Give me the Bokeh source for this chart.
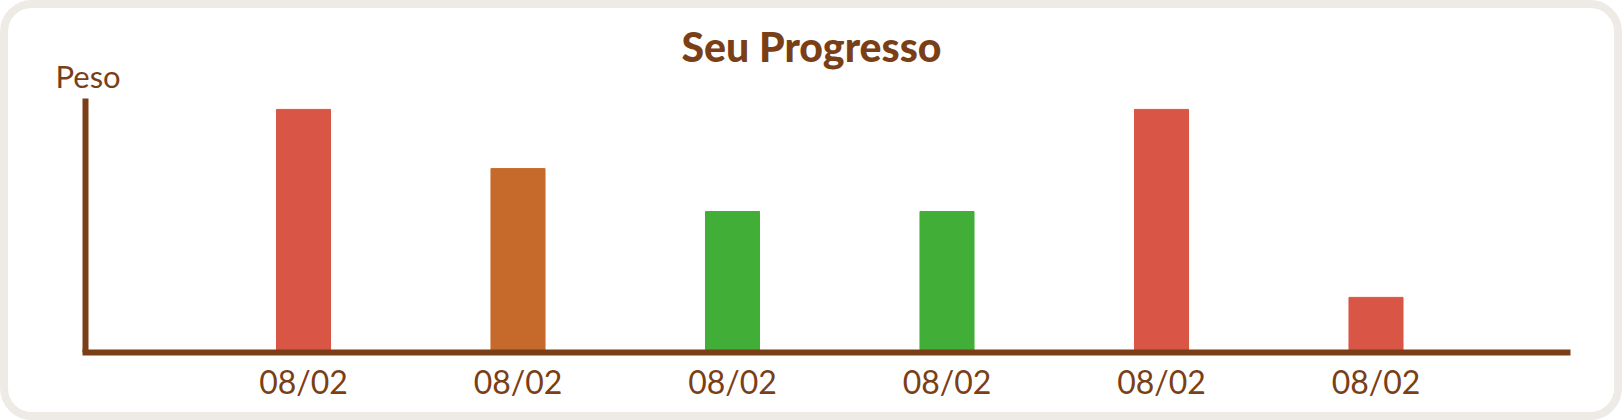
from bokeh.plotting import figure
from bokeh.models import ColumnDataSource, FixedTicker, Label, Range1d
from bokeh.embed import file_html
from bokeh.resources import INLINE

# ---- data ----
dates = ["08/02", "08/02", "08/02", "08/02", "08/02", "08/02"]
weights = [95.7, 72.4, 55.5, 55.5, 95.7, 21.7]
bar_colors = ["#D95545", "#C66A2B", "#41AE38", "#41AE38", "#D95545", "#D95545"]
title_text = "Seu Progresso"
y_label = "Peso"

BROWN = "#7A3F17"
FONT = "Lato"

xs = list(range(1, len(dates) + 1))
src = ColumnDataSource(dict(x=xs, top=weights, color=bar_colors))

X0 = -0.01632     # where the value axis stands
X1 = 6.8928       # end of the category axis line

p = figure(
    width=1606, height=404,
    output_backend="svg", toolbar_location=None,
    x_range=Range1d(-0.28205, 7.18648), y_range=Range1d(0, 135.43),
    min_border_left=20, min_border_right=0, min_border_top=0, min_border_bottom=76,
)
p.styles = {
    "border": "8px solid #EEEAE6", "border-radius": "32px",
    "overflow": "hidden", "box-sizing": "content-box",
}
p.background_fill_color = "white"
p.border_fill_color = "white"
p.outline_line_color = None
p.grid.visible = False

p.vbar(x="x", top="top", bottom=0, width=0.252, color="color", source=src)

# x axis
xa = p.xaxis[0]
xa.ticker = FixedTicker(ticks=xs)
xa.major_label_overrides = {x: d for x, d in zip(xs, dates)}
xa.bounds = (X0, X1)
xa.axis_line_color = BROWN
xa.axis_line_width = 6
xa.axis_line_cap = "square"
xa.major_tick_line_color = None
xa.minor_tick_line_color = None
xa.major_tick_out = 0
xa.major_tick_in = 0
xa.major_label_text_font = FONT
xa.major_label_text_font_size = "32px"
xa.major_label_text_color = BROWN
xa.major_label_standoff = 9

# y axis
ya = p.yaxis[0]
ya.ticker = FixedTicker(ticks=[])
ya.fixed_location = X0
ya.bounds = (0, 100)
ya.axis_line_color = BROWN
ya.axis_line_width = 6
ya.major_tick_line_color = None
ya.minor_tick_line_color = None
ya.major_tick_out = 0
ya.major_tick_in = 0
ya.minor_tick_out = 0
ya.major_label_standoff = 0
ya.major_label_text_font_size = "0px"

p.add_layout(Label(x=783, y=306, x_units="screen", y_units="screen", text=title_text,
                   text_align="center", text_baseline="alphabetic",
                   text_font="Lato Black", text_font_style="bold",
                   text_font_size="41px", text_color=BROWN))
p.add_layout(Label(x=27, y=277, x_units="screen", y_units="screen", text=y_label,
                   text_align="left", text_baseline="alphabetic",
                   text_font=FONT, text_font_size="31px", text_color=BROWN))

open("out.html", "w").write(file_html(p, INLINE))
